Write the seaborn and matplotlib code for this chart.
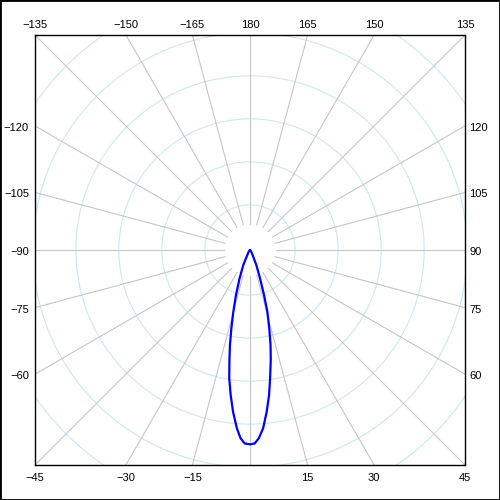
import numpy as np
import pandas as pd
import matplotlib
matplotlib.use("Agg")
import matplotlib.pyplot as plt
from matplotlib.patches import Circle, Rectangle
import seaborn as sns

# ---- data (intensity distribution, 0 deg pointing down) ----
angles_deg = [-90, -45, -35, -28.4, -24.1, -20.2, -17.3, -15.1, -13.4, -11.9, -10.6, -9.2,
              -7.6, -6.0, -4.2, -2.9, -1.6, 0, 1.4, 2.7, 4.2, 5.9, 7.5, 8.9, 10.7, 12.2,
              13.8, 15.7, 17.3, 19.5, 22.8, 27.5, 35, 45, 90]
intensity = [0.0, 0.02, 0.06, 0.13, 0.38, 0.70, 1.10, 1.49, 1.87, 2.26, 2.60, 3.02,
             3.40, 3.78, 4.16, 4.38, 4.50, 4.52, 4.50, 4.38, 4.16, 3.78, 3.40, 3.02, 2.60, 2.26,
             1.88, 1.49, 1.10, 0.70, 0.38, 0.13, 0.06, 0.02, 0.0]
ring_values = [1.05, 2.05, 3.05, 4.05, 5.05, 6.05, 7.05]
spoke_angles = list(range(-180, 180, 15))
label_angles = [-135, -150, -165, 180, 165, 150, 135,
                -120, -105, -90, -75, -60,
                120, 105, 90, 75, 60,
                -45, -30, -15, 15, 30, 45]

HALF = 5.0          # box half-width in data units
PX = 43.0           # pixels per data unit
SPOKE_START = 0.6
FS = 8

sns.set_style("white")
plt.rcParams["font.family"] = ["Liberation Sans", "DejaVu Sans"]
plt.rcParams["text.color"] = "black"

fig = plt.figure(figsize=(5, 5), dpi=100)
ax = fig.add_axes([35 / 500, 35 / 500, 430 / 500, 430 / 500])
ax.set_xlim(-HALF, HALF)
ax.set_ylim(-HALF, HALF)
ax.set_aspect("equal")
ax.set_xticks([])
ax.set_yticks([])
for s in ax.spines.values():
    s.set_color("black")
    s.set_linewidth(1.0)
    s.set_visible(True)

# rings
for rv in ring_values:
    ax.add_patch(Circle((0, 0), rv, fill=False, edgecolor="#cfe7ee", lw=0.8, zorder=1))

# spokes
for a in spoke_angles:
    t = np.deg2rad(a)
    ax.plot([SPOKE_START * np.sin(t), 9 * np.sin(t)],
            [-SPOKE_START * np.cos(t), -9 * np.cos(t)],
            color="#c6c6c6", lw=0.8, zorder=2)

# curve
th = np.deg2rad(np.array(angles_deg))
r = np.array(intensity)
df = pd.DataFrame({"x": r * np.sin(th), "y": -r * np.cos(th)})
sns.lineplot(data=df, x="x", y="y", sort=False, estimator=None, color="#0000ff",
             lw=1.6, ax=ax, zorder=5)
ax.set_xlabel("")
ax.set_ylabel("")

# angle labels
def lab(a):
    return f"\u2212{abs(a)}" if a < 0 else str(a)

for a in label_angles:
    t = np.deg2rad(a)
    sx, cy = np.sin(t), -np.cos(t)
    kw = dict(fontsize=FS, color="black", clip_on=False, va="center")
    if abs(abs(sx) - abs(cy)) < 1e-9 or abs(cy) > abs(sx):
        k = HALF / abs(cy)
        x = sx * k
        if cy > 0:
            ax.text(x, HALF + 10 / PX, lab(a), ha="center", **kw)
        else:
            ax.text(x, -HALF - 13 / PX, lab(a), ha="center", **kw)
    else:
        k = HALF / abs(sx)
        y = cy * k - 2 / PX
        if sx < 0:
            ax.text(-HALF - 6 / PX, y, lab(a), ha="right", **kw)
        else:
            ax.text(HALF + 4 / PX, y, lab(a), ha="left", **kw)

fig.patches.append(Rectangle((0, 0), 1, 1, transform=fig.transFigure, fill=False,
                             edgecolor="black", lw=2))

fig.savefig("out.png", dpi=100, facecolor="white")
